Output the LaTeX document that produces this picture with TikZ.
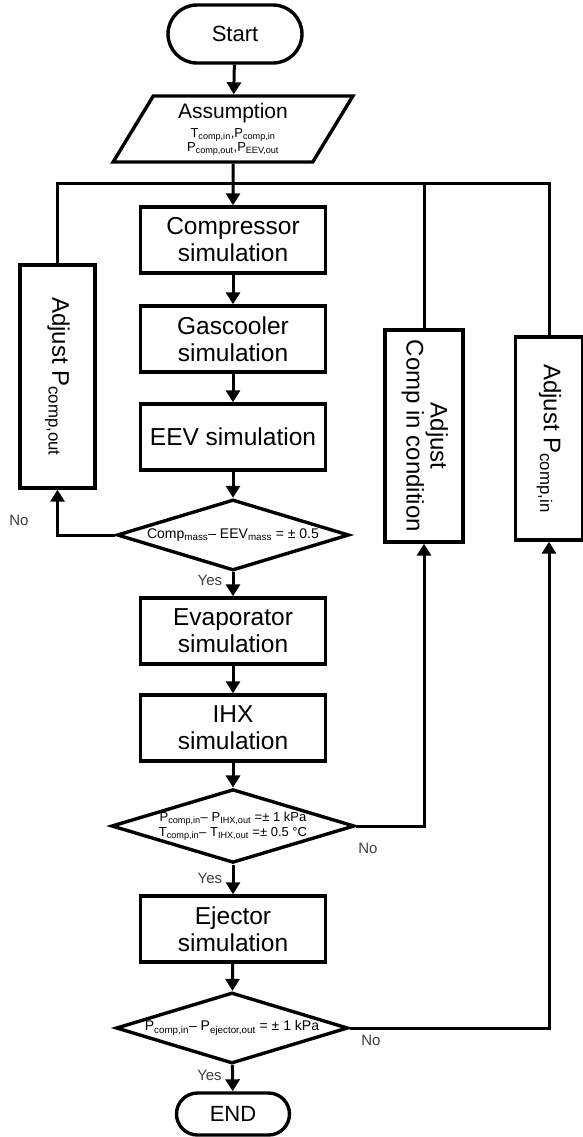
\documentclass[tikz,border=0pt]{standalone}
\usepackage{fontspec}
\setmainfont{Liberation Sans}
\usetikzlibrary{shapes.geometric,shapes.misc,arrows.meta}
\tikzset{
    base-shape/.style = {draw=black, line width=3.4pt, fill=white, align=center, inner sep=0pt},
    term-box/.style = {base-shape, rounded rectangle, minimum width=134pt, minimum height=58pt, font=\fontsize{22}{26}\selectfont},
    input-box/.style = {base-shape, trapezium, trapezium left angle=62, trapezium right angle=118, trapezium stretches=true, minimum width=240pt, minimum height=66pt, font=\fontsize{21}{24}\selectfont},
    sim-box/.style = {base-shape, rectangle, minimum width=185pt, minimum height=66pt, font=\fontsize{24.5}{27}\selectfont},
    check-box/.style = {base-shape, diamond, aspect=3.3, minimum width=232pt, minimum height=71pt, font=\fontsize{14}{15}\selectfont},
    adjust-box/.style = {base-shape, rectangle, font=\fontsize{24}{27}\selectfont},
    flow-line/.style = {line width=3pt},
    flow-arrow/.style = {flow-line, -{Triangle[length=12pt,width=14pt]}},
    answer/.style = {font=\fontsize{15}{17}\selectfont, text=black!75},
}

\begin{document}
\begin{tikzpicture}[x=1pt,y=-1pt]
\useasboundingbox (0,0) rectangle (583,1137);

\node[term-box] (start) at (235,34) {Start};
\node[input-box] (assume) at (233,129) {Assumption\\[-5pt]
    \fontsize{13}{14}\selectfont T\textsubscript{comp,in},P\textsubscript{comp,in}\\[-10pt]
    \fontsize{13}{14}\selectfont P\textsubscript{comp,out},P\textsubscript{EEV,out}};
\coordinate (join) at (233,183);

\node[sim-box] (comp) at (233,240) {Compressor\\simulation};
\node[sim-box] (gas) at (233,339) {Gascooler\\simulation};
\node[sim-box] (eev) at (233,437) {EEV simulation};
\node[check-box] (check-mass) at (233,535) {Comp\textsubscript{mass}-- EEV\textsubscript{mass} = ± 0.5};
\node[sim-box] (evap) at (233,631) {Evaporator\\simulation};
\node[sim-box] (ihx) at (233,728) {IHX\\simulation};
\node[check-box, font=\fontsize{13}{15}\selectfont] (check-ihx) at (233,826) {P\textsubscript{comp,in}-- P\textsubscript{IHX,out} =± 1 kPa\\
    T\textsubscript{comp,in}-- T\textsubscript{IHX,out} =± 0.5 °C};
\node[sim-box] (ejector) at (233,929) {Ejector\\simulation};
\node[check-box] (check-ejector) at (232,1028) {P\textsubscript{comp,in}-- P\textsubscript{ejector,out} = ± 1 kPa};
\node[term-box, minimum width=113pt, minimum height=42pt] (end) at (233,1114) {END};

\node[adjust-box, minimum width=75pt, minimum height=223pt] (adjust-out) at (57.5,376.5) {\rotatebox{-90}{Adjust P\textsubscript{comp,out}}};
\node[adjust-box, minimum width=78pt, minimum height=212pt] (adjust-cond) at (424,436) {\rotatebox{-90}{\begin{tabular}{@{}c@{}}Adjust\\[-3pt]Comp in condition\end{tabular}}};
\node[adjust-box, minimum width=67pt, minimum height=203pt] (adjust-in) at (549,438.5) {\rotatebox{-90}{Adjust P\textsubscript{comp,in}}};

\draw[flow-arrow] (start) -- (assume);
\draw[flow-arrow] (assume) -- (comp);
\draw[flow-arrow] (comp) -- (gas);
\draw[flow-arrow] (gas) -- (eev);
\draw[flow-arrow] (eev) -- (check-mass);
\draw[flow-arrow] (check-mass) -- node[answer, left=6pt, pos=0.35] (yes-mass) {Yes} (evap);
\draw[flow-arrow] (evap) -- (ihx);
\draw[flow-arrow] (ihx) -- (check-ihx);
\draw[flow-arrow] (check-ihx) -- node[answer, left=6pt, pos=0.45] (yes-ihx) {Yes} (ejector);
\draw[flow-arrow] (ejector) -- (check-ejector);
\draw[flow-arrow] (check-ejector) -- node[answer, left=6pt, pos=0.4] (yes-ejector) {Yes} (end);

\draw[flow-arrow] (check-mass.west) -| (adjust-out.south);
\draw[flow-arrow] (check-ihx.east) -| (adjust-cond.south);
\draw[flow-arrow] (check-ejector.east) -| (adjust-in.south);
\draw[flow-line] (adjust-out.north) |- (join);
\draw[flow-line] (adjust-in.north) |- (join);
\draw[flow-line] (adjust-cond.north) -- (adjust-cond.north |- join);

\node[answer] (no-mass) at (19,520) {No};
\node[answer] (no-ihx) at (368,848) {No};
\node[answer] (no-ejector) at (371,1040) {No};
\end{tikzpicture}
\end{document}
